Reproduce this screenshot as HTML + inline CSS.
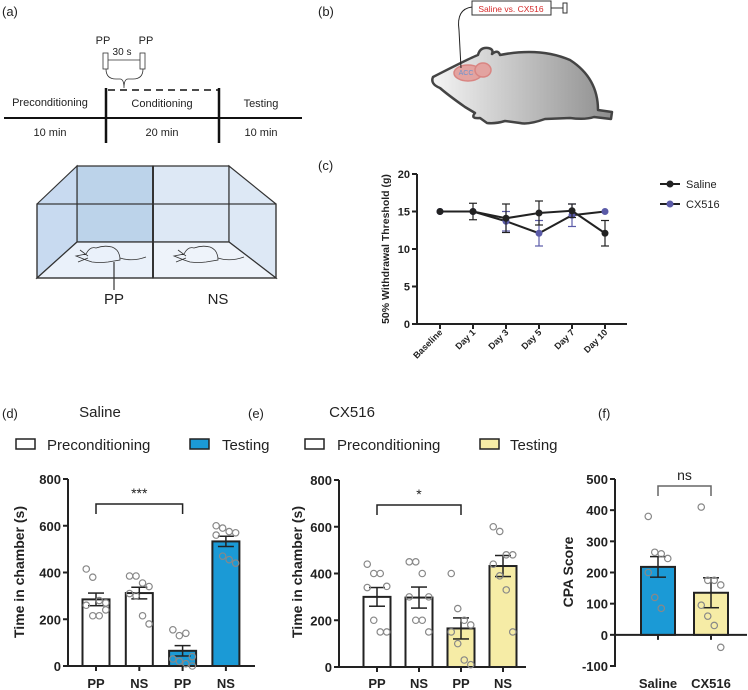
<!DOCTYPE html>
<html><head><meta charset="utf-8"><style>
html,body{margin:0;padding:0;background:#fff}
svg{display:block;font-family:"Liberation Sans",Arial,sans-serif}
.b{font-weight:bold}
</style></head><body>
<svg id="fig" width="748" height="690" viewBox="0 0 748 690">
<!-- Panel a -->
<g font-size="11" fill="#222">
<text x="2" y="16" font-size="13">(a)</text>
<line x1="4" y1="118" x2="302" y2="118" stroke="#111" stroke-width="2"/>
<line x1="106" y1="88" x2="106" y2="143" stroke="#111" stroke-width="2.5"/>
<line x1="219" y1="88" x2="219" y2="143" stroke="#111" stroke-width="2.5"/>
<line x1="108" y1="90" x2="219" y2="90" stroke="#111" stroke-width="1.5" stroke-dasharray="7,5"/>
<text x="50" y="106" text-anchor="middle">Preconditioning</text>
<text x="162" y="107" text-anchor="middle">Conditioning</text>
<text x="261" y="107" text-anchor="middle">Testing</text>
<text x="50" y="136" text-anchor="middle">10 min</text>
<text x="162" y="136" text-anchor="middle">20 min</text>
<text x="261" y="136" text-anchor="middle">10 min</text>
<rect x="103" y="53" width="5" height="16" fill="#fff" stroke="#333" stroke-width="0.8"/>
<rect x="140" y="53" width="5" height="16" fill="#fff" stroke="#333" stroke-width="0.8"/>
<line x1="108" y1="60" x2="140" y2="60" stroke="#333" stroke-width="0.8"/>
<path d="M106 69 Q106 79 116 79 L120 79 Q124 79 124 88 Q124 79 128 79 L133 79 Q143 79 143 69" fill="none" stroke="#333" stroke-width="0.8"/>
<text x="103" y="44" text-anchor="middle">PP</text>
<text x="146" y="44" text-anchor="middle">PP</text>
<text x="122" y="55" text-anchor="middle" font-size="10">30 s</text>
</g>
<g stroke="#333" stroke-width="1.2">
<polygon points="77,166 153,166 153,242 77,242" fill="#bcd3ea"/>
<polygon points="153,166 229,166 229,242 153,242" fill="#dde8f5"/>
<polygon points="37,204 77,166 77,242 37,278" fill="#c8daf0"/>
<polygon points="276,204 229,166 229,242 276,278" fill="#dde8f5"/>
<polygon points="37,278 77,242 153,242 153,278" fill="#eaf1fa"/>
<polygon points="153,278 153,242 229,242 276,278" fill="#eef3fa"/>
<rect x="37" y="204" width="239" height="74" fill="none"/>
<line x1="153" y1="166" x2="153" y2="278" stroke-width="2"/>
<g fill="none" stroke="#333" stroke-width="0.8">
<path d="M76 256 L86 254 Q90 246 96 248 Q104 245 112 247 Q120 250 120 260 L108 262 Q100 263 92 262 L86 260 Z M120 258 Q132 262 146 257 M80 250 L88 256 M78 262 L88 258"/>
<path d="M174 256 L184 254 Q188 246 194 248 Q202 245 210 247 Q218 250 218 260 L206 262 Q198 263 190 262 L184 260 Z M218 258 Q230 262 244 257 M178 250 L186 256 M176 262 L186 258"/>
</g>
<line x1="114" y1="262" x2="114" y2="290"/>
</g>
<text x="114" y="304" font-size="15" text-anchor="middle" fill="#222">PP</text>
<text x="218" y="304" font-size="15" text-anchor="middle" fill="#222">NS</text>
<!-- Panel b -->
<g>
<text x="318" y="16" font-size="13" fill="#222">(b)</text>
<defs><linearGradient id="rg" x1="0" x2="1"><stop offset="0" stop-color="#f4f4f4"/><stop offset="1" stop-color="#8e8e8e"/></linearGradient></defs>
<path d="M433 77 Q470 58 478 55 Q480 47 488 48 Q494 49 492 54 Q498 49 500 55 Q540 47 570 60 Q598 78 598 110 L612 112 L611 119 L594 117 Q585 120 570 118 L545 119 Q528 125 520 123 L505 121 Q495 124 487 123 L480 118 Q470 119 475 113 L465 107 Q448 95 440 88 Q430 84 433 77 Z" fill="url(#rg)" stroke="#444" stroke-width="2.5" stroke-linejoin="round"/>
<ellipse cx="468" cy="73" rx="14" ry="8" fill="#e3a3a0" stroke="#d98582" stroke-width="1.5"/>
<ellipse cx="483" cy="70" rx="8" ry="7" fill="#e3a3a0" stroke="#d98582" stroke-width="1.5"/>
<text x="466" y="75" font-size="7" fill="#6a93d0" text-anchor="middle">ACC</text>
<path d="M472 7 Q456 9 459 30 L461 68" fill="none" stroke="#222" stroke-width="1"/>
<rect x="472" y="1" width="79" height="14" fill="#fff" stroke="#333" stroke-width="1"/>
<text x="511" y="12" font-size="8.5" fill="#d42a2a" text-anchor="middle">Saline vs. CX516</text>
<line x1="551" y1="8" x2="563" y2="8" stroke="#333"/>
<rect x="563" y="3" width="4" height="10" fill="#fff" stroke="#333"/>
</g>
<text x="318" y="170" font-size="13" fill="#222">(c)</text>
<text x="2" y="418" font-size="13" fill="#222">(d)</text>
<text x="248" y="418" font-size="13" fill="#222">(e)</text>
<text x="598" y="418" font-size="13" fill="#222">(f)</text>
<g id="gc"></g>
<g id="gd"></g>
<g id="ge"></g>
<g id="gf"></g>
</svg>
<script>
const cDays=["Baseline","Day 1","Day 3","Day 5","Day 7","Day 10"];
const cTicks=[0,5,10,15,20];
const salineMean=[15,15,14.1,14.8,15.1,12.1];
const salineErr=[0,1.1,1.9,1.6,0.9,1.7];
const cxMean=[15,15,13.7,12.1,14.5,15];
const cxErr=[0,0,1.3,1.7,1.5,0];

const dCats=["PP","NS","PP","NS"];
const dMeans=[285,312,65,533];
const dErrs=[27,25,22,22];
const dDots=[[415,380,280,270,260,215,215,240],[385,385,355,340,310,300,215,180],[155,130,140,40,30,20,10,0],[600,590,575,570,560,470,455,440]];
const eMeans=[300,297,165,432];
const eErrs=[40,45,45,45];
const eDots=[[440,400,400,345,340,200,150,150],[450,450,400,300,300,200,200,150],[400,250,200,180,150,100,30,10],[600,580,480,480,440,390,330,150]];
const barTicks=[0,200,400,600,800];
const fCats=["Saline","CX516"];
const fMeans=[218,135];
const fErrs=[33,48];
const fDots=[[380,265,260,245,200,120,85],[410,175,175,160,95,60,30,-40]];
const fTicks=[-100,0,100,200,300,400,500];

const SVGNS="http://www.w3.org/2000/svg";
function mk(p,t,a,txt){const e=document.createElementNS(SVGNS,t);for(const k in a)e.setAttribute(k,a[k]);if(txt!==undefined)e.textContent=txt;p.appendChild(e);return e;}

// Panel c
(function(){
const g=document.getElementById('gc');
const x0=417,x1=627,yTop=174,yBot=324;
const ys=v=>yBot-(v/20)*(yBot-yTop);
const xs=i=>440+i*33;
mk(g,'line',{x1:x0,y1:yTop,x2:x0,y2:yBot+1,stroke:'#222','stroke-width':2});
mk(g,'line',{x1:x0-1,y1:yBot,x2:x1,y2:yBot,stroke:'#222','stroke-width':2});
cTicks.forEach(t=>{mk(g,'line',{x1:x0-5,y1:ys(t),x2:x0,y2:ys(t),stroke:'#222','stroke-width':2});
 const e=mk(g,'text',{x:x0-7,y:ys(t)+4,'text-anchor':'end','font-size':11,'class':'b',fill:'#222'},t);
 
 });
cDays.forEach((d,i)=>{mk(g,'line',{x1:xs(i),y1:yBot,x2:xs(i),y2:yBot+5,stroke:'#222','stroke-width':2});
 const e=mk(g,'text',{x:xs(i)+3,y:yBot+9,'text-anchor':'end','font-size':9,'class':'b',fill:'#222',transform:`rotate(-45 ${xs(i)+3} ${yBot+9})`},d);
 
 });
const yt=mk(g,'text',{x:0,y:0,'font-size':10.5,'class':'b',fill:'#222','text-anchor':'middle',transform:`translate(389,249) rotate(-90)`},'50% Withdrawal Threshold (g)');


function series(m,er,col,name){
 let pts=m.map((v,i)=>xs(i)+','+ys(v)).join(' ');
 const l=mk(g,'polyline',{points:pts,fill:'none',stroke:'#222','stroke-width':2});
 
 
 m.forEach((v,i)=>{if(er[i]>0){mk(g,'line',{x1:xs(i),y1:ys(v-er[i]),x2:xs(i),y2:ys(v+er[i]),stroke:col,'stroke-width':1.2});
  [v-er[i],v+er[i]].forEach(w=>mk(g,'line',{x1:xs(i)-4,y1:ys(w),x2:xs(i)+4,y2:ys(w),stroke:col,'stroke-width':1.2}));}
  const c=mk(g,'circle',{cx:xs(i),cy:ys(v),r:3.5,fill:col});
  
  });
}
series(cxMean,cxErr,'#5b5ba8','cx516');
series(salineMean,salineErr,'#222','saline');
[['Saline','#222',184],['CX516','#5b5ba8',204]].forEach(([n,c,y])=>{
 const lg=mk(g,'g',{});
 
 
 mk(lg,'line',{x1:660,y1:y,x2:680,y2:y,stroke:'#222','stroke-width':2});
 mk(lg,'circle',{cx:670,cy:y,r:3.5,fill:c});
 mk(lg,'text',{x:686,y:y+4,'font-size':11,fill:'#222'},n);});
})();

function barChart(gid,o){
const g=document.getElementById(gid);
const ys=v=>o.y0-(v-o.min)/(o.max-o.min)*(o.y0-o.yTop);
mk(g,'line',{x1:o.ax,y1:o.yTop,x2:o.ax,y2:o.y0+1,stroke:'#222','stroke-width':2});
mk(g,'line',{x1:o.ax-1,y1:ys(0),x2:o.axEnd,y2:ys(0),stroke:'#222','stroke-width':2});
o.ticks.forEach(t=>{mk(g,'line',{x1:o.ax-5,y1:ys(t),x2:o.ax,y2:ys(t),stroke:'#222','stroke-width':2});
 const e=mk(g,'text',{x:o.ax-7,y:ys(t)+5,'text-anchor':'end','font-size':13,'class':'b',fill:'#222'},t);
 
 });
const yt=mk(g,'text',{x:0,y:0,'font-size':14,'class':'b',fill:'#222','text-anchor':'middle',transform:`translate(${o.titleX},${o.titleY}) rotate(-90)`},o.title);


const xs=i=>o.c0+i*o.step;
o.means.forEach((m,i)=>{
 const x=xs(i),w=o.bw;
 const r=mk(g,'rect',{x:x-w/2,y:Math.min(ys(m),ys(0)),width:w,height:Math.abs(ys(0)-ys(m)),fill:o.fills[i],stroke:'#222','stroke-width':2});
 
 
 mk(g,'line',{x1:x,y1:ys(m-o.errs[i]),x2:x,y2:ys(m+o.errs[i]),stroke:'#222','stroke-width':1.5});
 [m-o.errs[i],m+o.errs[i]].forEach(v=>mk(g,'line',{x1:x-8,y1:ys(v),x2:x+8,y2:ys(v),stroke:'#222','stroke-width':1.5}));
 const d=o.dots[i];d.forEach((v,j)=>{const off=((j%4)-1.5)*6.5;
  const c=mk(g,'circle',{cx:x+off,cy:ys(v),r:3.2,fill:'none',stroke:'#888','stroke-width':1.2});
  
  });
 mk(g,'line',{x1:x,y1:ys(0),x2:x,y2:ys(0)+5,stroke:'#222','stroke-width':2});
 const e=mk(g,'text',{x:x,y:o.labY,'text-anchor':'middle','font-size':13,'class':'b',fill:'#222'},o.cats[i]);
 
 
});
const bk=mk(g,'path',{d:`M${xs(o.br[0])} ${o.brY+10} V${o.brY} H${xs(o.br[1])} V${o.brY+10}`,fill:'none',stroke:o.brCol,'stroke-width':1.5});


const st=mk(g,'text',{x:(xs(o.br[0])+xs(o.br[1]))/2,y:o.brY-6,'text-anchor':'middle','font-size':o.sigSize,fill:'#222'},o.sig);


}
const BLUE='#1b9ad6',YEL='#f6eca6',WH='#fff';
barChart('gd',{ax:68,axEnd:255,yTop:479,y0:666,min:0,max:800,ticks:barTicks,title:'Time in chamber (s)',titleX:24,titleY:572,c0:96,step:43.3,bw:27,means:dMeans,errs:dErrs,dots:dDots,fills:[WH,WH,BLUE,BLUE],cats:dCats,labY:688,br:[0,2],brY:504,brCol:'#222',sig:'***',sigSize:14});
barChart('ge',{ax:339,axEnd:526,yTop:480,y0:667,min:0,max:800,ticks:barTicks,title:'Time in chamber (s)',titleX:302,titleY:572,c0:377,step:42,bw:27,means:eMeans,errs:eErrs,dots:eDots,fills:[WH,WH,YEL,YEL],cats:dCats,labY:688,br:[0,2],brY:505,brCol:'#222',sig:'*',sigSize:14});
barChart('gf',{ax:615,axEnd:747,yTop:479,y0:666,min:-100,max:500,ticks:fTicks,title:'CPA  Score',titleX:573,titleY:572,c0:658,step:53,bw:34,means:fMeans,errs:fErrs,dots:fDots,fills:[BLUE,YEL],cats:fCats,labY:688,br:[0,1],brY:486,brCol:'#666',sig:'ns',sigSize:14});

const figEl=document.getElementById('fig');
[['Saline',100],['CX516',352]].forEach(([t,x])=>{const e=mk(figEl,'text',{x:x,y:417,'text-anchor':'middle','font-size':15,fill:'#222'},t);
 
 });
[[16,47,'Preconditioning',WH],[190,222,'Testing',BLUE],[305,337,'Preconditioning',WH],[480,510,'Testing',YEL]].forEach(([rx,tx,t,f])=>{
 const lg=mk(figEl,'g',{});
 
 
 mk(lg,'rect',{x:rx,y:439,width:19,height:10,fill:f,stroke:'#222','stroke-width':1.5});
 mk(lg,'text',{x:tx,y:450,'font-size':15,fill:'#222'},t);});
</script>
</body></html>
